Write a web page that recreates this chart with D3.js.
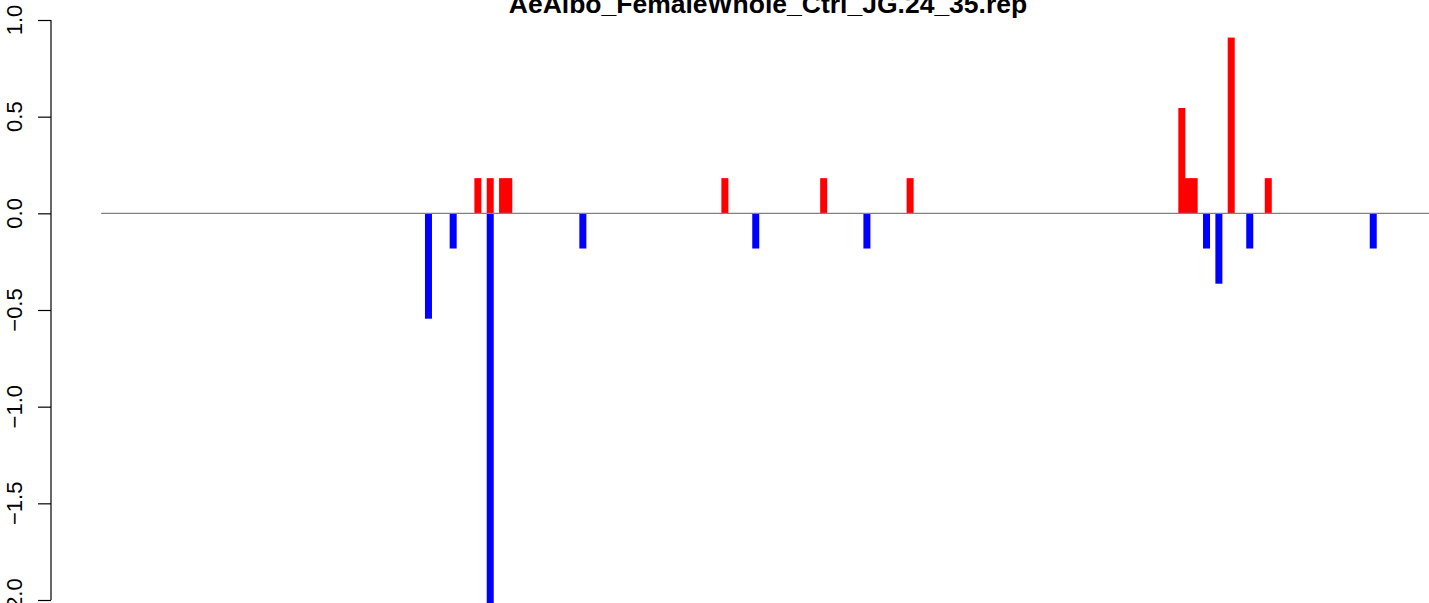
<!DOCTYPE html>
<html>
<head>
<meta charset="utf-8">
<script src="https://cdn.jsdelivr.net/npm/d3@7"></script>
<style>
html,body{margin:0;padding:0;background:#fff;}
svg{display:block;}
</style>
</head>
<body>
<svg id="chart" width="1429" height="603"></svg>
<script>
const title = "AeAlbo_FemaleWhole_Ctrl_JG.24_35.rep";
const positions = [53, 57, 61, 63, 63, 65, 66, 78, 101, 106, 117, 124, 131, 175, 176, 177, 179, 181, 183, 186, 189, 206];
const values    = [-0.545, -0.182, 0.182, 0.182, -2.5, 0.182, 0.182, -0.182, 0.182, -0.182, 0.182, -0.182, 0.182, 0.545, 0.182, 0.182, -0.182, -0.364, 0.909, -0.182, 0.182, -0.182];
const yTicks = [-2.0, -1.5, -1.0, -0.5, 0.0, 0.5, 1.0];
const xDomain = [0, 230];

const svg = d3.select("#chart");
const W = 1429, H = 603;
const axisX = 51;

const x = d3.scaleLinear().domain(xDomain).range([101.2, 101.2 + 230 * 6.175]);
const y = d3.scaleLinear().domain([-2, 1]).range([600, 20]);

const data = positions.map((p, i) => ({p, v: values[i]}));

svg.append("g").selectAll("rect").data(data).enter().append("rect")
  .attr("x", d => x(d.p) - 3.5)
  .attr("width", 7)
  .attr("y", d => y(Math.max(0, d.v)))
  .attr("height", d => Math.abs(y(d.v) - y(0)))
  .attr("fill", d => d.v > 0 ? "#ff0000" : "#0000ff");

svg.append("line")
  .attr("x1", x(xDomain[0])).attr("x2", x(xDomain[1]))
  .attr("y1", y(0)).attr("y2", y(0))
  .attr("stroke", "#808080").attr("stroke-width", 1.3);

const axis = d3.axisLeft(y).tickValues(yTicks).tickFormat(d3.format(".1f")).tickSizeOuter(0).tickSizeInner(13).tickPadding(0);
const ag = svg.append("g").attr("transform", `translate(${axisX},0)`).call(axis);
ag.select(".domain").attr("d", `M0,${y(-2)}V${y(1)}`).attr("stroke", "#000").attr("stroke-width", 1.2);
ag.selectAll(".tick line").attr("stroke", "#000").attr("stroke-width", 1.2);
ag.selectAll(".tick text").remove();

const tickLabels = svg.append("g");
yTicks.forEach(t => {
  tickLabels.append("text")
    .attr("transform", `translate(22,${y(t)}) rotate(-90)`)
    .attr("text-anchor", "middle")
    .attr("font-family", "Liberation Sans, Arial, sans-serif")
    .attr("font-size", 22)
    .attr("fill", "#000")
    .text(d3.format(".1f")(t).replace("-", "\u2212"));
});

svg.append("text")
  .attr("x", 768).attr("y", 13)
  .attr("text-anchor", "middle")
  .attr("font-family", "Liberation Sans, Arial, sans-serif")
  .attr("font-weight", "bold")
  .attr("font-size", 26.5)
  .attr("fill", "#000")
  .text(title);
</script>
</body>
</html>
